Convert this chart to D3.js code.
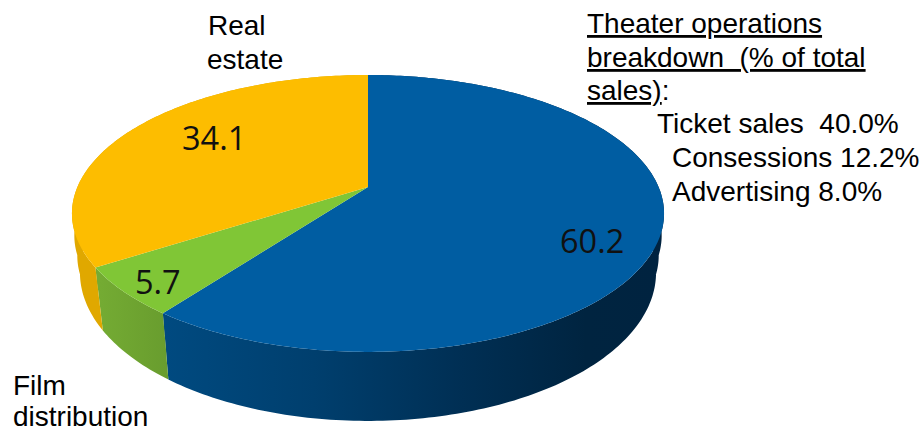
<!DOCTYPE html>
<html>
<head>
<meta charset="utf-8">
<script src="https://cdn.jsdelivr.net/npm/d3@7"></script>
<style>
  html, body { margin: 0; padding: 0; background: #fff; }
  svg { display: block; }
  text { white-space: pre; fill: #000; }
  .note { font-family: "Liberation Sans", Arial, sans-serif; font-size: 28px; }
  .val { font-family: "Open Sans", sans-serif; font-size: 32.5px; fill: #111; }
</style>
</head>
<body>
<div id="chart"></div>
<script>
// data
var categories = ['Theater operations', 'Film distribution', 'Real estate']
var values = [60.2, 5.7, 34.1]
var breakdownNames = ['Ticket sales ', 'Consessions', 'Advertising']
var breakdownValues = ['40.0%', '12.2%', '8.0%']

var colors = ['#005da2', '#80c636', '#fdbd00']
var wallColors = ['url(#blueWall)', 'url(#greenWall)', '#e0a800']

var width = 923, height = 432

// perspective of the tilted pie
var cx = 368, cy = 187, persp = 0.191, scaleX = 290.6, scaleY = 133.4

function project(a) {
  var u = Math.sin(a), v = Math.cos(a), w = 1 + persp * v
  return [cx + scaleX * u / w, cy - scaleY * v / w]
}
// lower rim of the pie, from the upper rim
function lower(p) {
  return [cx + (p[0] - cx) * 0.973, p[1] + 59 + (p[1] - 213) * 0.0723]
}
// the wall bulges a bit near the left and right ends
function ring(scale, drop) {
  return function(p) { return [cx + (p[0] - cx) * scale, p[1] + drop] }
}
function arcPoints(a0, a1) {
  var n = Math.ceil((a1 - a0) * 60)
  return d3.range(n + 1).map(function(i) { return project(a0 + (a1 - a0) * i / n) })
}

var svg = d3.select('#chart').append('svg')
  .attr('width', width).attr('height', height)

var defs = svg.append('defs')
function gradient(id, x1, x2, stops) {
  var g = defs.append('linearGradient').attr('id', id)
    .attr('gradientUnits', 'userSpaceOnUse')
    .attr('x1', x1).attr('x2', x2).attr('y1', 0).attr('y2', 0)
  stops.forEach(function(s) {
    g.append('stop').attr('offset', s[0]).attr('stop-color', s[1])
  })
}
gradient('blueWall', 165, 660, [[0, '#004a80'], [0.3, '#003f6e'], [0.6, '#002f54'], [0.85, '#002440'], [1, '#002340']])
gradient('greenWall', 100, 170, [[0, '#74ab33'], [1, '#689c2e']])

var pie = d3.pie().sort(null).startAngle(0).endAngle(2 * Math.PI)
var slices = pie(values)
var line = d3.line()

// side walls first, the top faces cover whatever is hidden
svg.append('g').selectAll('path')
  .data(slices)
  .enter().append('path')
  .attr('fill', function(d, i) { return wallColors[i] })
  .attr('d', function(d) {
    var top = arcPoints(d.startAngle, d.endAngle)
    return [lower, ring(0.992, 22), ring(0.982, 42)].map(function(f) {
      return line(top.concat(top.map(f).reverse())) + 'Z'
    }).join('')
  })

svg.append('g').selectAll('path')
  .data(slices)
  .enter().append('path')
  .attr('fill', function(d, i) { return colors[i] })
  .attr('d', function(d) {
    return line([[cx, cy]].concat(arcPoints(d.startAngle, d.endAngle))) + 'Z'
  })

// value labels
var valuePos = [[560, 253], [135, 294], [182, 150]]
svg.append('g').selectAll('text')
  .data(values)
  .enter().append('text')
  .attr('class', 'val')
  .attr('x', function(d, i) { return valuePos[i][0] })
  .attr('y', function(d, i) { return valuePos[i][1] })
  .text(function(d) { return d.toFixed(1) })

function note(x, y, str, underline) {
  return svg.append('text').attr('class', 'note')
    .attr('x', x).attr('y', y)
    .style('text-decoration', underline ? 'underline' : null)
    .text(str)
}

// category labels
var realWords = categories[2].split(' ')
note(208, 35, realWords[0])
note(207, 69, realWords[1])
var filmWords = categories[1].split(' ')
note(13, 395, filmWords[0])
note(13, 425.5, filmWords[1])

// breakdown note
note(587, 33, categories[0], true)
note(587, 67, 'breakdown  (% of total', true)
var last = svg.append('text').attr('class', 'note').attr('x', 587).attr('y', 100)
last.append('tspan').style('text-decoration', 'underline').text('sales)')
last.append('tspan').text(':')

var breakdownPos = [[657, 133], [672, 167], [672, 201]]
svg.append('g').selectAll('text')
  .data(breakdownNames)
  .enter().append('text')
  .attr('class', 'note')
  .attr('x', function(d, i) { return breakdownPos[i][0] })
  .attr('y', function(d, i) { return breakdownPos[i][1] })
  .text(function(d, i) { return d + ' ' + breakdownValues[i] })
</script>
</body>
</html>
